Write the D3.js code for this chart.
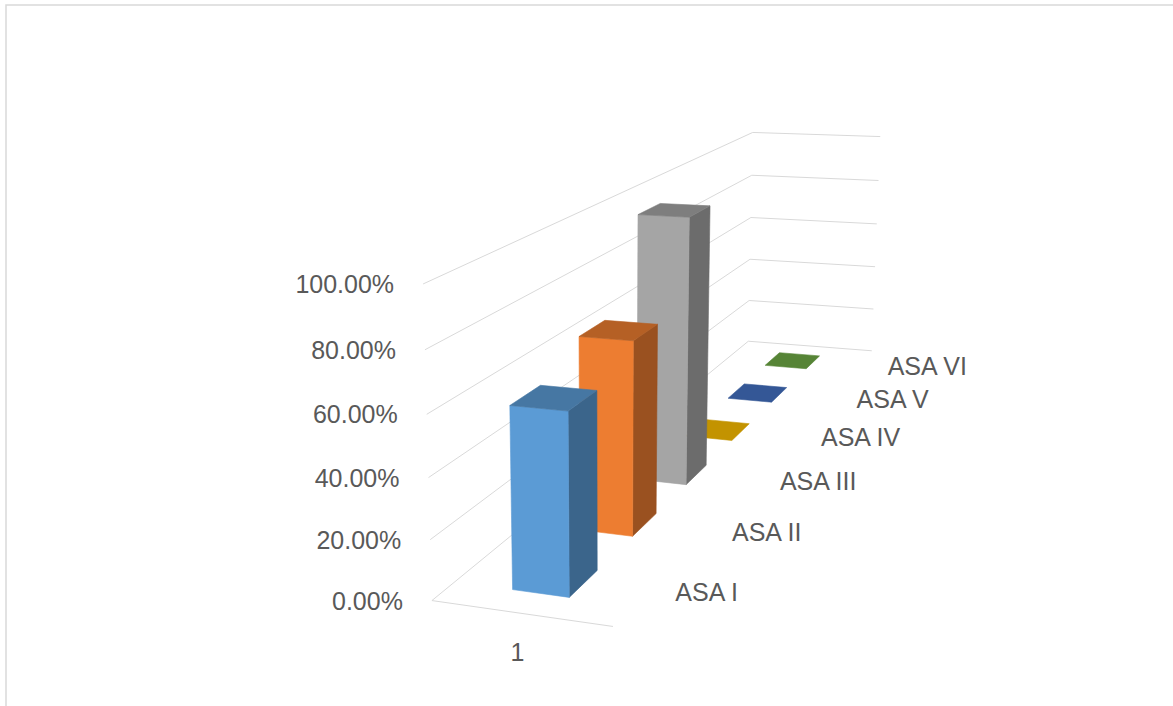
<!DOCTYPE html>
<html><head><meta charset="utf-8">
<script src="https://cdn.jsdelivr.net/npm/d3@7"></script>
<style>body{margin:0;background:#fff} svg{display:block}</style>
</head><body>
<svg id="c" width="1173" height="706"></svg>
<script>
// ---------- data ----------
const categories = ["1"];
const seriesNames = ["ASA I", "ASA II", "ASA III", "ASA IV", "ASA V", "ASA VI"];
const seriesValues = [0.60, 0.68, 0.99, 0, 0, 0];
const seriesColors = ["#5B9BD5", "#ED7D31", "#A5A5A5", "#FFC000", "#4472C4", "#70AD47"];
const tickValues = [0, 0.2, 0.4, 0.6, 0.8, 1.0];

// ---------- 3D frame calibration (plot box corners: world [x, value, depth] -> screen) ----------
const frameWorld  = [[0,0,0],[1,0,0],[0,0,1],[1,0,1],[0,1,0],[0,1,1],[1,1,1]];
const frameScreen = [[432,600],[613,627],[748,342],[872,350],[423,284],[753,132],[880,137]];

const NU = 600, NV = 400, NS = 300;
function solve(M, b) {
  const n = b.length, A = M.map((r, i) => r.concat([b[i]]));
  for (let c = 0; c < n; c++) {
    let p = c;
    for (let r = c + 1; r < n; r++) if (Math.abs(A[r][c]) > Math.abs(A[p][c])) p = r;
    [A[c], A[p]] = [A[p], A[c]];
    for (let r = c + 1; r < n; r++) {
      const f = A[r][c] / A[c][c];
      for (let k = c; k <= n; k++) A[r][k] -= f * A[c][k];
    }
  }
  const x = new Array(n).fill(0);
  for (let r = n - 1; r >= 0; r--) {
    let s = A[r][n];
    for (let k = r + 1; k < n; k++) s -= A[r][k] * x[k];
    x[r] = s / A[r][r];
  }
  return x;
}
const rows = [], rhs = [];
frameWorld.forEach((w, i) => {
  const [X, Y, Z] = w;
  const u = (frameScreen[i][0] - NU) / NS, v = (frameScreen[i][1] - NV) / NS;
  rows.push([X, Y, Z, 1, 0, 0, 0, 0, -u*X, -u*Y, -u*Z]); rhs.push(u);
  rows.push([0, 0, 0, 0, X, Y, Z, 1, -v*X, -v*Y, -v*Z]); rhs.push(v);
});
const ATA = [], ATb = [];
for (let i = 0; i < 11; i++) {
  ATA.push([]);
  for (let j = 0; j < 11; j++) ATA[i].push(d3.sum(rows, r => r[i] * r[j]));
  ATb.push(d3.sum(rows, (r, k) => r[i] * rhs[k]));
}
const h = solve(ATA, ATb);
function proj([X, Y, Z]) {
  const w = h[8]*X + h[9]*Y + h[10]*Z + 1;
  const u = (h[0]*X + h[1]*Y + h[2]*Z + h[3]) / w;
  const v = (h[4]*X + h[5]*Y + h[6]*Z + h[7]) / w;
  return [u * NS + NU, v * NS + NV];
}

// ---------- scales ----------
const xBand = d3.scaleBand().domain(categories).range([-0.006, 0.994]).paddingInner(0.68).paddingOuter(0.34);
const zBand = d3.scaleBand().domain(seriesNames).range([0, 1]).paddingInner(0.58).paddingOuter(0.29);
const yScale = d3.scaleLinear().domain([0, 1]).range([0, 1]);
const fmt = d3.format(".2%");

const svg = d3.select("#c");
const font = "'Liberation Sans', Arial, sans-serif";
const textColor = "#595959";
const gridColor = "#D9D9D9";

// chart border
svg.append("rect").attr("x", 6).attr("y", 5).attr("width", 1300).attr("height", 800)
  .attr("fill", "none").attr("stroke", gridColor).attr("stroke-width", 1.5);

const line = d3.line();
const gridG = svg.append("g").attr("fill", "none").attr("stroke", gridColor).attr("stroke-width", 1);
tickValues.forEach(t => {
  const y = yScale(t);
  gridG.append("path").attr("d", line([proj([0, y, 0]), proj([0, y, 1]), proj([1, y, 1])]));
});
gridG.append("path").attr("d", line([proj([0, 0, 0]), proj([1, 0, 0])]));

// bars, back to front
const barsG = svg.append("g");
const order = d3.range(seriesNames.length).reverse();
order.forEach(i => {
  const name = seriesNames[i], val = seriesValues[i];
  const x0 = xBand(categories[0]), x1 = x0 + xBand.bandwidth();
  const z0 = zBand(name), z1 = z0 + zBand.bandwidth();
  const hgt = yScale(val);
  const base = d3.color(seriesColors[i]);
  const top = base.darker(0.75).formatHex(), side = base.darker(1.2).formatHex();
  const faces = [];
  if (val > 0) {
    faces.push({ c: side, p: [[x1,0,z0],[x1,0,z1],[x1,hgt,z1],[x1,hgt,z0]] });
    faces.push({ c: base.formatHex(), p: [[x0,0,z0],[x1,0,z0],[x1,hgt,z0],[x0,hgt,z0]] });
  }
  faces.push({ c: top, p: [[x0,hgt,z0],[x1,hgt,z0],[x1,hgt,z1],[x0,hgt,z1]] });
  faces.forEach(f => {
    barsG.append("path").attr("d", line(f.p.map(proj)) + "Z")
      .attr("fill", f.c).attr("stroke", f.c).attr("stroke-width", 0.6).attr("stroke-linejoin", "round");
  });
});

// value axis labels
const labG = svg.append("g").attr("font-family", font).attr("font-size", 25).attr("fill", textColor);
tickValues.forEach(t => {
  const p = proj([0, yScale(t), 0]);
  labG.append("text").attr("x", p[0] - 29).attr("y", p[1]).attr("dy", "0.36em")
    .attr("text-anchor", "end").text(fmt(t));
});
// series (depth) axis labels
seriesNames.forEach(name => {
  const p = proj([1, 0, zBand(name) + zBand.bandwidth() / 2]);
  labG.append("text").attr("x", p[0] + 30).attr("y", p[1]).attr("dy", "0.36em")
    .attr("text-anchor", "start").text(name);
});
// category label
categories.forEach(c => {
  const p = proj([xBand(c) + xBand.bandwidth() / 2, 0, 0]);
  labG.append("text").attr("x", p[0] - 2).attr("y", p[1] + 39).attr("dy", "0.36em")
    .attr("text-anchor", "middle").text(c);
});
</script>
</body></html>
